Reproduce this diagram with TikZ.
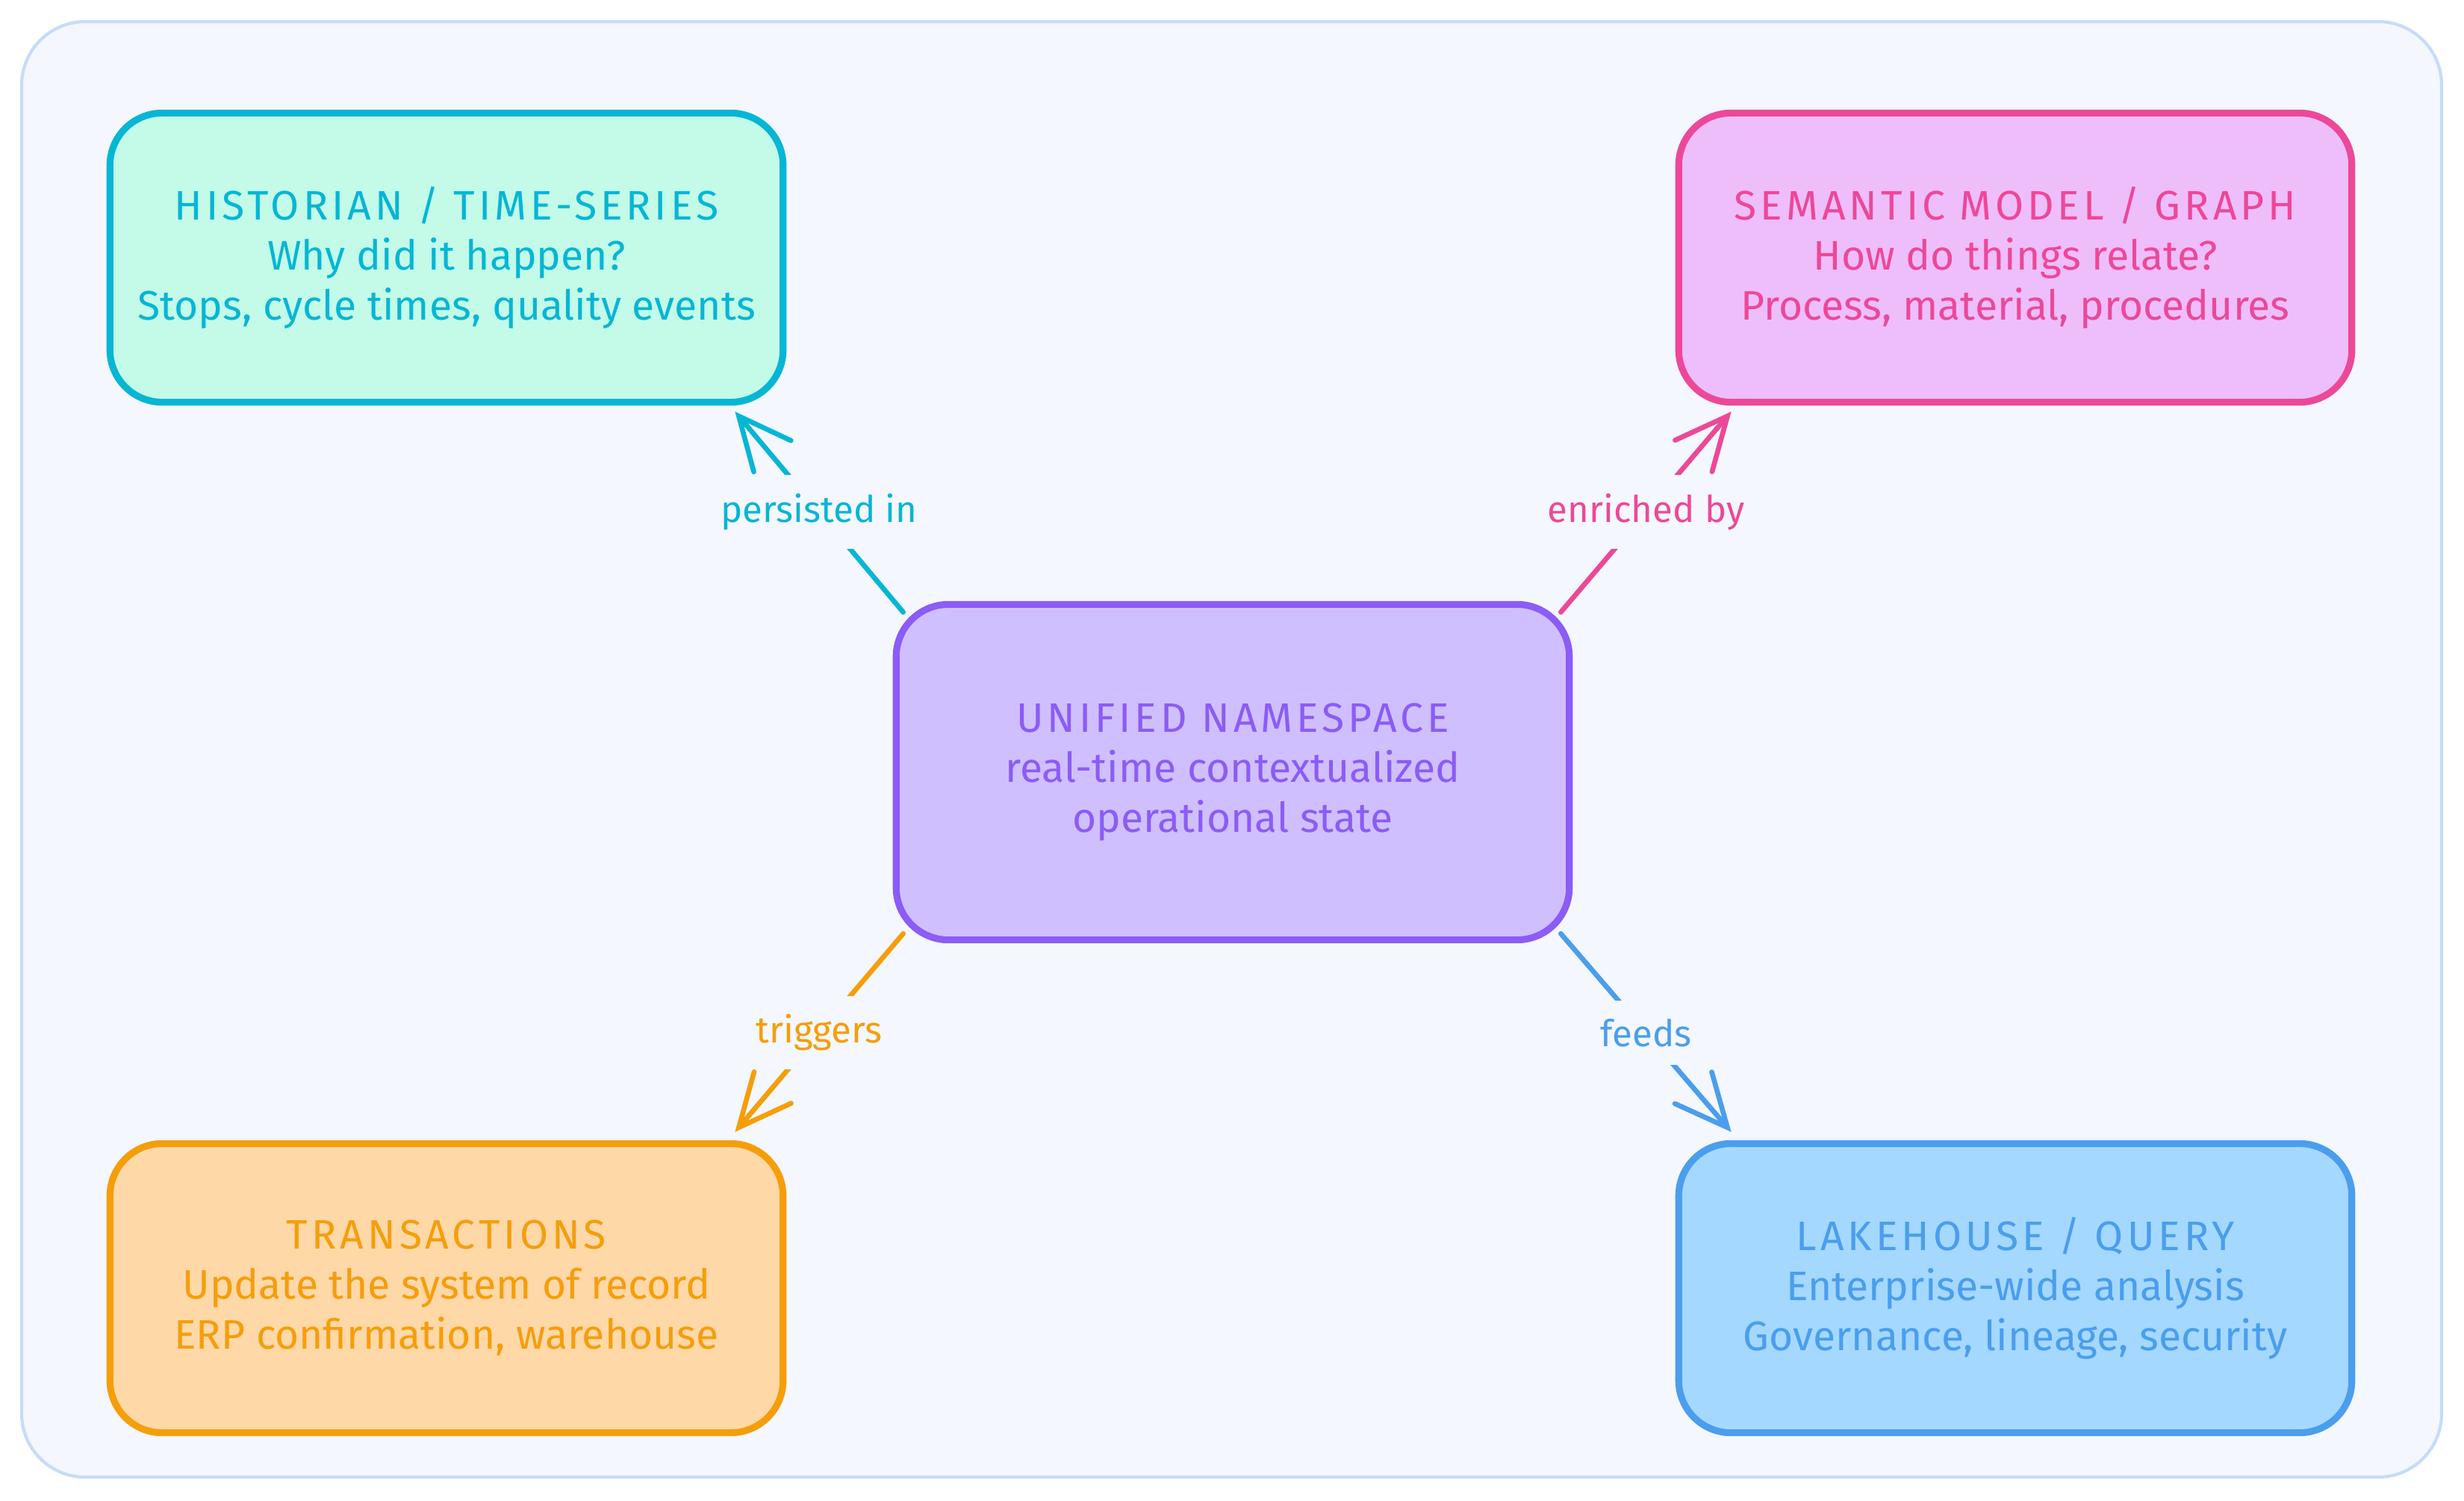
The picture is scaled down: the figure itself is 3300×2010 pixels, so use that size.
\documentclass[tikz,border=0pt]{standalone}
\usepackage{fontspec}
\setmainfont{Fira Sans}
\usetikzlibrary{arrows.meta,calc}
\definecolor{bgfill}{HTML}{F4F7FE}
\definecolor{bgdraw}{HTML}{C6DCF8}
\definecolor{tealD}{HTML}{06B6D4}
\definecolor{tealF}{HTML}{C3FAE8}
\definecolor{pinkD}{HTML}{EC4899}
\definecolor{pinkF}{HTML}{EEBEFA}
\definecolor{purpD}{HTML}{8B5CF6}
\definecolor{purpF}{HTML}{D0BFFF}
\definecolor{oranD}{HTML}{F59E0B}
\definecolor{oranF}{HTML}{FFD8A8}
\definecolor{blueD}{HTML}{4A9EED}
\definecolor{blueF}{HTML}{A5D8FF}
\newcommand{\ttl}[1]{{\addfontfeature{LetterSpace=9}#1}}
\tikzset{
  card/.style={rounded corners=0.7cm, line width=2.6pt, minimum width=9.01cm, minimum height=3.87cm,
    align=center, font=\fontsize{15.7}{19}\selectfont, inner sep=0pt},
  arr/.style={line width=1.9pt, line cap=round, -{Straight Barb[length=7mm,width=6.5mm,line cap=round]}},
  lbl/.style={fill=bgfill, font=\fontsize{14}{16}\selectfont, inner sep=7pt, midway}
}
\begin{document}
\begin{tikzpicture}[x=0.01cm,y=-0.01cm]
\useasboundingbox (0,0) rectangle (3300,2010);
\draw[fill=bgfill, draw=bgdraw, line width=1.2pt, rounded corners=0.85cm] (29,29) rectangle (3270,1978);

\node[card, draw=tealD, fill=tealF, text=tealD] (hist) at (598,345)
  {\ttl{HISTORIAN / TIME-SERIES}\\Why did it happen?\\Stops, cycle times, quality events};
\node[card, draw=pinkD, fill=pinkF, text=pinkD] (sem) at (2699,345)
  {\ttl{SEMANTIC MODEL / GRAPH}\\How do things relate?\\Process, material, procedures};
\node[card, draw=purpD, fill=purpF, text=purpD, minimum height=4.49cm] (uns) at (1651,1034)
  {\ttl{UNIFIED NAMESPACE}\\real-time contextualized\\operational state};
\node[card, draw=oranD, fill=oranF, text=oranD] (trans) at (598,1725)
  {\ttl{TRANSACTIONS}\\Update the system of record\\ERP confirmation, warehouse};
\node[card, draw=blueD, fill=blueF, text=blueD] (lake) at (2699,1725)
  {\ttl{LAKEHOUSE / QUERY}\\Enterprise-wide analysis\\Governance, lineage, security};

\draw[arr, tealD] ($(uns.north west)+(14,15)$) -- node[lbl, text=tealD]{persisted in} ($(hist.south east)+(-69,8)$);
\draw[arr, pinkD] ($(uns.north east)+(-16,15)$) -- node[lbl, text=pinkD]{enriched by} ($(sem.south west)+(75,8)$);
\draw[arr, oranD] ($(uns.south west)+(14,-13)$) -- node[lbl, text=oranD]{triggers} ($(trans.north east)+(-69,-11)$);
\draw[arr, blueD] ($(uns.south east)+(-16,-13)$) -- node[lbl, text=blueD]{feeds} ($(lake.north west)+(75,-11)$);
\end{tikzpicture}
\end{document}
